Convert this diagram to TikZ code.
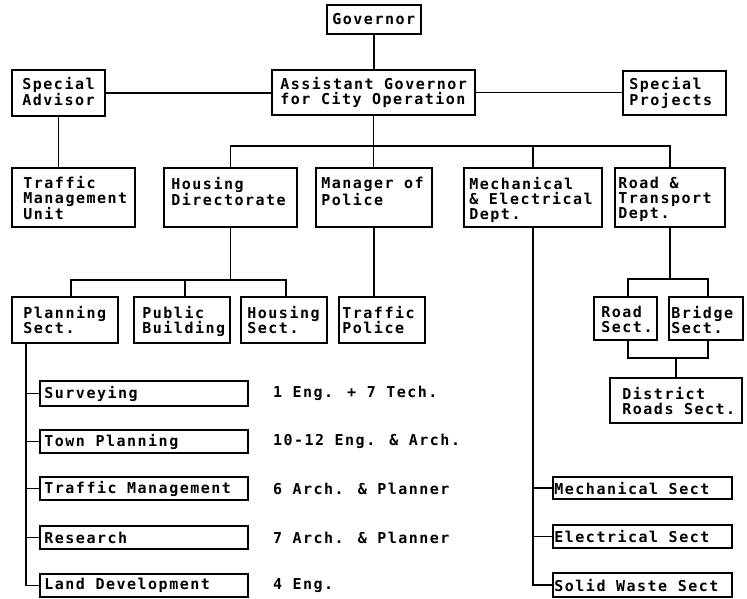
\documentclass[tikz,border=0pt]{standalone}
\usepackage{fontspec}
\usetikzlibrary{fit}
\newfontfamily\dmb{DejaVu Sans Mono}[LetterSpace=10]
\tikzset{
  box/.style={draw, line width=1.6pt, inner sep=0pt, rectangle},
  conn/.style={line width=1.7pt},
  txt/.style={inner sep=0pt, anchor=north west, align=left, font={\dmb\bfseries\fontsize{15}{15}\selectfont}},
  txtw/.style={inner sep=0pt, anchor=west, font={\dmb\bfseries\fontsize{15}{15}\selectfont}}
}
\newcommand\boxat[5]{\node[box, fit={(#2,#3)(#4,#5)}] (#1) {};}
\begin{document}
\begin{tikzpicture}[x=1pt,y=-1pt]
\useasboundingbox (0,0) rectangle (747,598);
% boxes
\boxat{gov}{327}{5}{421}{34}
\boxat{asst}{272}{70}{475}{115}
\boxat{sadv}{12}{70}{105}{116}
\boxat{sproj}{623}{71}{726}{115}
\boxat{tmu}{12}{168}{135}{227}
\boxat{hous}{164}{168}{297}{227}
\boxat{mpol}{316}{168}{432}{227}
\boxat{mech}{464}{168}{602}{227}
\boxat{road}{615}{168}{725}{227}
\boxat{plan}{12}{297}{118}{343}
\boxat{pub}{134}{297}{230}{343}
\boxat{hsec}{241}{297}{327}{343}
\boxat{tpol}{339}{297}{425}{343}
\boxat{rsec}{594}{297}{657}{340}
\boxat{bsec}{669}{297}{743}{340}
\boxat{dist}{610}{378}{742}{423}
\boxat{surv}{40}{381}{248}{406}
\boxat{town}{40}{430}{248}{453}
\boxat{traf}{40}{477}{248}{500}
\boxat{res}{40}{526}{248}{549}
\boxat{land}{40}{574}{248}{597}
\boxat{mechs}{553}{477}{732}{499}
\boxat{elec}{553}{525}{732}{548}
\boxat{solid}{553}{573}{732}{597}
% texts
\node[txtw] at ([xshift=6pt]gov.west) {Governor};
\node[txt] at ([xshift=9pt,yshift=-8pt]asst.north west) {Assistant Governor\\for City Operation};
\node[txt] at ([xshift=11pt,yshift=-8pt]sadv.north west) {Special\\Advisor};
\node[txt] at ([xshift=7pt,yshift=-7pt]sproj.north west) {Special\\Projects};
\node[txt] at ([xshift=12pt,yshift=-9pt]tmu.north west) {Traffic\\Management\\Unit};
\node[txt] at ([xshift=8pt,yshift=-10pt]hous.north west) {Housing\\Directorate};
\node[txt] at ([xshift=6pt,yshift=-10pt]mpol.north west) {Manager of\\Police};
\node[txt] at ([xshift=6pt,yshift=-10pt]mech.north west) {Mechanical\\\& Electrical\\Dept.};
\node[txt] at ([xshift=4pt,yshift=-10pt]road.north west) {Road \&\\Transport\\Dept.};
\node[txt] at ([xshift=12pt,yshift=-10pt]plan.north west) {Planning\\Sect.};
\node[txt] at ([xshift=9pt,yshift=-10pt]pub.north west) {Public\\Building};
\node[txt] at ([xshift=7pt,yshift=-10pt]hsec.north west) {Housing\\Sect.};
\node[txt] at ([xshift=4pt,yshift=-10pt]tpol.north west) {Traffic\\Police};
\node[txt] at ([xshift=8pt,yshift=-10pt]rsec.north west) {Road\\Sect.};
\node[txt] at ([xshift=3pt,yshift=-10pt]bsec.north west) {Bridge\\Sect.};
\node[txt] at ([xshift=13pt,yshift=-10pt]dist.north west) {District\\Roads Sect.};
\node[txtw] at ([xshift=5pt]surv.west) {Surveying};
\node[txtw] at ([xshift=5pt]town.west) {Town Planning};
\node[txtw] at ([xshift=5pt]traf.west) {Traffic Management};
\node[txtw] at ([xshift=5pt]res.west) {Research};
\node[txtw] at ([xshift=5pt]land.west) {Land Development};
\node[txtw] at ([xshift=2pt]mechs.west) {Mechanical Sect};
\node[txtw] at ([xshift=2pt]elec.west) {Electrical Sect};
\node[txtw] at ([xshift=2pt]solid.west) {Solid Waste Sect};
% side notes
\node[txtw] (n1) at ([xshift=24pt]surv.east) {1 Eng. + 7 Tech.};
\node[txtw] (n2) at ([xshift=24pt]town.east) {10-12 Eng. \& Arch.};
\node[txtw] (n3) at ([xshift=24pt]traf.east) {6 Arch. \& Planner};
\node[txtw] (n4) at ([xshift=24pt]res.east) {7 Arch. \& Planner};
\node[txtw] (n5) at ([xshift=24pt]land.east) {4 Eng.};
% connectors
\draw[conn] (gov.south) -- (gov.south |- asst.north);
\draw[conn] (sadv.east) -- (sadv.east -| asst.west);
\draw[conn] (asst.east) -- (asst.east -| sproj.west);
\draw[conn] (sadv.south) -- (sadv.south |- tmu.north);
\coordinate (b1) at (373,146);
\draw[conn] (asst.south) -- (asst.south |- mpol.north);
\draw[conn] (hous.north) |- (b1) -| (road.north);
\draw[conn] (mech.north) -- (mech.north |- b1);
% housing branch
\coordinate (hbL) at (71,280);
\coordinate (hbP) at (185,280);
\coordinate (hbR) at (286,280);
\draw[conn] (hous.south) -- (hous.south |- hbL);
\draw[conn] (hbL |- plan.north) -- (hbL) -- (hbR) -- (hbR |- hsec.north);
\draw[conn] (hbP) -- (hbP |- pub.north);
% police
\draw[conn] (mpol.south) -- (mpol.south |- tpol.north);
% road branch
\coordinate (rbL) at (628,279);
\coordinate (rbR) at (708,279);
\coordinate (dbL) at (628,358);
\coordinate (dbR) at (708,358);
\draw[conn] (road.south) -- (road.south |- rbL);
\draw[conn] (rbL |- rsec.north) -- (rbL) -- (rbR) -- (rbR |- bsec.north);
\draw[conn] (dbL |- rsec.south) -- (dbL) -- (dbR) -- (dbR |- bsec.south);
\draw[conn] (dist.north) -- (dist.north |- dbL);
% planning sub units
\coordinate (pv) at (26,0);
\draw[conn] (pv |- plan.south) -- (pv |- land.west) -- (land.west);
\draw[conn] (pv |- surv.west) -- (surv.west);
\draw[conn] (pv |- town.west) -- (town.west);
\draw[conn] (pv |- traf.west) -- (traf.west);
\draw[conn] (pv |- res.west) -- (res.west);
% mechanical sub units
\draw[conn] (mech.south) -- (mech.south |- solid.west) -- (solid.west);
\draw[conn] (mech.south |- mechs.west) -- (mechs.west);
\draw[conn] (mech.south |- elec.west) -- (elec.west);
\end{tikzpicture}
\end{document}
